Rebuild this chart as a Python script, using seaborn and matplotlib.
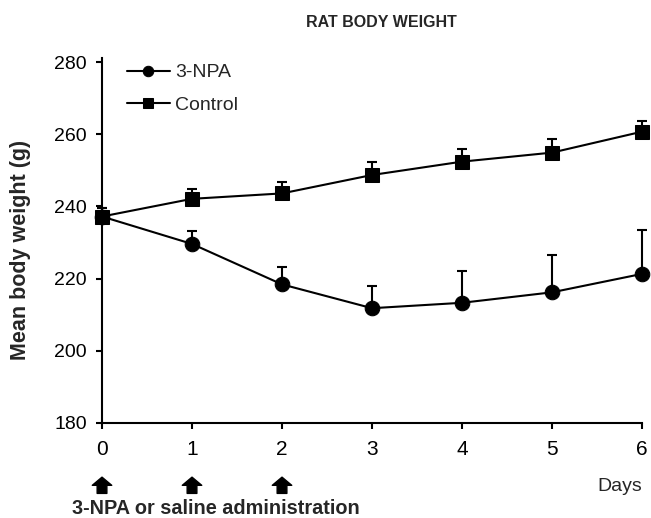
import matplotlib
matplotlib.use("Agg")
import matplotlib.pyplot as plt
import matplotlib.transforms as mtransforms
import pandas as pd
import seaborn as sns

days = [0, 1, 2, 3, 4, 5, 6]
npa_mean = [237.2, 229.6, 218.4, 211.8, 213.3, 216.2, 221.3]
npa_sem = [2.3, 3.7, 4.7, 6.2, 8.9, 10.3, 12.2]
control_mean = [237.2, 242.1, 243.6, 248.7, 252.4, 254.9, 260.7]
control_sem = [2.3, 2.7, 3.2, 3.5, 3.4, 3.8, 3.0]
admin_days = [0, 1, 2]

sns.set_style("ticks")
plt.rcParams['font.family'] = ['Liberation Sans', 'DejaVu Sans']

df = pd.concat([
    pd.DataFrame({'day': days, 'weight': npa_mean, 'group': '3-NPA'}),
    pd.DataFrame({'day': days, 'weight': control_mean, 'group': 'Control'}),
])

fig = plt.figure(figsize=(6.51, 5.18), dpi=100)
ax = fig.add_axes([0.1567, 0.1834, 0.8295, 0.6969])

# one-sided (upper) error bars
for mean, sem in [(npa_mean, npa_sem), (control_mean, control_sem)]:
    eb = ax.errorbar(days, mean, yerr=[[0] * len(days), sem], fmt='none',
                     ecolor='black', elinewidth=1.5, capsize=3.8, capthick=1.5, zorder=1)
    for child in eb.get_children():
        child.set_clip_on(False)

sns.lineplot(data=df, x='day', y='weight', hue='group', style='group',
             markers={'3-NPA': 'o', 'Control': 's'}, dashes=False,
             palette={'3-NPA': 'black', 'Control': 'black'},
             markersize=10.5, linewidth=1.5, markeredgecolor='black', clip_on=False,
             ax=ax, zorder=3)

ax.set_xlim(0, 6)
ax.set_ylim(180, 280)
ax.set_xticks(days)
ax.set_yticks([180, 200, 220, 240, 260, 280])
ax.tick_params(axis='both', width=1.5, length=4, direction='out', colors='black')
ax.tick_params(axis='y', labelsize=14, pad=7)
ax.tick_params(axis='x', labelsize=15, pad=8)
sns.despine(ax=ax)
for sp in ['left', 'bottom']:
    ax.spines[sp].set_linewidth(1.5)
    ax.spines[sp].set_color('black')
ax.spines['left'].set_bounds(180, 281)

ax.set_xlabel('')
ax.set_ylabel('Mean body weight (g)', fontsize=15.5, fontweight='bold')
ax.yaxis.set_label_coords(-0.131, 0.48)
ax.set_title('RAT BODY WEIGHT', fontsize=11.5, fontweight='bold', pad=25, x=0.517)

leg = ax.legend(loc='upper left', bbox_to_anchor=(0.046, 0.995), frameon=False,
                fontsize=14, handlelength=2.2, handletextpad=0.3, labelspacing=0.75,
                borderaxespad=0, borderpad=0)
for h in leg.legend_handles:
    h.set_markersize(7.5)

# administration arrows under the x axis
trans = mtransforms.blended_transform_factory(ax.transData, ax.transAxes)
for d in admin_days:
    ax.annotate('', xy=(d, -0.150), xytext=(d, -0.195), xycoords=trans, textcoords=trans,
                arrowprops=dict(arrowstyle='simple,head_length=0.42,head_width=1.0,tail_width=0.5',
                                mutation_scale=14, shrinkA=0, shrinkB=0, color='black'),
                annotation_clip=False)
ax.text(-0.056, -0.236, '3-NPA or saline administration', transform=ax.transAxes,
        fontsize=14.3, fontweight='bold', va='center', ha='left')
ax.text(1.0, -0.175, 'Days', transform=ax.transAxes, fontsize=14, va='center', ha='right')

fig.savefig('out.png', dpi=100)
